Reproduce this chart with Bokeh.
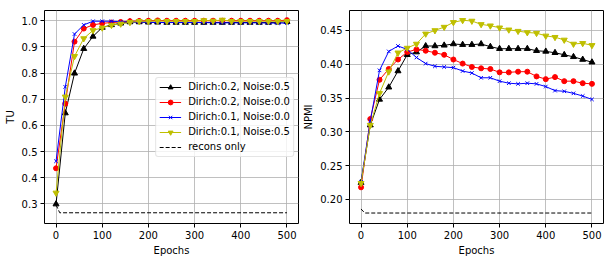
from bokeh.plotting import figure
from bokeh.layouts import row
from bokeh.models import Range1d, FixedTicker, NumeralTickFormatter
from bokeh.embed import file_html
from bokeh.resources import INLINE

epochs = [0, 20, 40, 60, 80, 100, 120, 140, 160, 180, 200, 220, 240, 260, 280,
          300, 320, 340, 360, 380, 400, 420, 440, 460, 480, 500]

tu_d02_n05 = [0.299, 0.647, 0.799, 0.893, 0.940, 0.974, 0.984, 0.990, 0.995, 0.995,
              0.994, 0.994, 0.993, 0.993, 0.993, 0.993, 0.993, 0.993, 0.993, 0.993,
              0.993, 0.993, 0.993, 0.993, 0.994, 0.996]
tu_d02_n00 = [0.436, 0.683, 0.920, 0.970, 0.984, 0.990, 0.993, 0.995, 0.998, 0.999,
              1.000, 1.001, 1.000, 1.000, 1.000, 1.000, 1.000, 1.000, 1.000, 1.000,
              1.000, 1.000, 1.000, 1.000, 1.000, 1.002]
tu_d01_n00 = [0.463, 0.747, 0.949, 0.984, 0.998, 0.998, 0.998, 0.996, 0.995, 0.995,
              0.994, 0.993, 0.993, 0.993, 0.993, 0.993, 0.993, 0.992, 0.992, 0.992,
              0.992, 0.992, 0.992, 0.991, 0.991, 0.991]
tu_d01_n05 = [0.342, 0.709, 0.864, 0.932, 0.963, 0.973, 0.983, 0.988, 0.994, 0.998,
              0.998, 0.999, 0.998, 0.998, 0.998, 0.998, 1.001, 0.999, 1.003, 0.998,
              0.998, 0.998, 0.998, 0.998, 0.998, 0.998]

npmi_d02_n05 = [0.225, 0.310, 0.348, 0.366, 0.390, 0.414, 0.418, 0.427, 0.427, 0.428,
                0.430, 0.429, 0.429, 0.430, 0.426, 0.423, 0.423, 0.423, 0.423, 0.420,
                0.419, 0.417, 0.414, 0.411, 0.407, 0.403]
npmi_d02_n00 = [0.218, 0.319, 0.377, 0.393, 0.407, 0.418, 0.422, 0.420, 0.417, 0.414,
                0.407, 0.401, 0.396, 0.394, 0.393, 0.388, 0.388, 0.389, 0.389, 0.382,
                0.378, 0.381, 0.375, 0.375, 0.372, 0.371]
npmi_d01_n00 = [0.226, 0.316, 0.391, 0.419, 0.427, 0.422, 0.410, 0.401, 0.397, 0.396,
                0.395, 0.390, 0.387, 0.380, 0.380, 0.375, 0.372, 0.371, 0.372, 0.371,
                0.367, 0.361, 0.360, 0.357, 0.353, 0.348]
npmi_d01_n05 = [0.224, 0.310, 0.357, 0.389, 0.417, 0.424, 0.430, 0.445, 0.450, 0.455,
                0.462, 0.465, 0.464, 0.459, 0.457, 0.454, 0.451, 0.449, 0.447, 0.446,
                0.442, 0.440, 0.436, 0.430, 0.431, 0.428]

recons_epochs = [0, 8, 500]
recons_tu = [0.296, 0.266, 0.266]
recons_npmi = [0.186, 0.180, 0.180]

labels = ["Dirich:0.2, Noise:0.5", "Dirich:0.2, Noise:0.0",
          "Dirich:0.1, Noise:0.0", "Dirich:0.1, Noise:0.5", "recons only"]
colors = ["#000000", "#ff0000", "#0000ff", "#bfbf00"]
markers = ["triangle", "circle", "x", "inverted_triangle"]
msizes = [6, 5, 5, 6]

FONT = "DejaVu Sans"
FS = "10px"


def style(p, yticks, yfmt, ylabel):
    p.outline_line_color = "black"
    p.outline_line_width = 1
    p.outline_line_alpha = 1
    p.background_fill_color = "white"
    p.border_fill_color = "white"
    p.xaxis.ticker = FixedTicker(ticks=[0, 100, 200, 300, 400, 500])
    p.yaxis.ticker = FixedTicker(ticks=yticks)
    p.yaxis.formatter = NumeralTickFormatter(format=yfmt)
    for ax in (p.xaxis[0], p.yaxis[0]):
        ax.axis_line_color = None
        ax.major_tick_out = 4
        ax.major_tick_in = 0
        ax.minor_tick_line_color = None
        ax.major_tick_line_color = "black"
        ax.major_label_text_font = FONT
        ax.major_label_text_font_size = FS
        ax.major_label_text_color = "black"
        ax.major_label_text_line_height = 1.0
        ax.major_label_standoff = 3
        ax.axis_label_text_font = FONT
        ax.axis_label_text_font_size = FS
        ax.axis_label_text_font_style = "normal"
        ax.axis_label_text_color = "black"
        ax.axis_label_text_line_height = 1.0
        ax.axis_label_standoff = 3
    p.xaxis.axis_label = "Epochs"
    p.yaxis.axis_label = ylabel
    p.grid.grid_line_color = "#b0b0b0"
    p.grid.grid_line_width = 0.8


def draw(p, series, recons, with_legend):
    for ys, c, m, s, lab in zip(series, colors, markers, msizes, labels[:4]):
        kw = {"legend_label": lab} if with_legend else {}
        p.line(epochs, ys, line_color=c, line_width=1, **kw)
        p.scatter(epochs, ys, marker=m, size=s, fill_color=c, line_color=c,
                  line_width=1, **kw)
    kw = {"legend_label": labels[4]} if with_legend else {}
    p.line(recons_epochs, recons, line_color="black", line_width=1,
           line_dash="4 2", **kw)


H = 258

p1 = figure(width=300, height=H, output_backend="svg", toolbar_location=None,
            x_range=Range1d(-25, 525), y_range=Range1d(0.225, 1.039),
            min_border_left=44, min_border_right=2, min_border_top=10,
            min_border_bottom=30)
style(p1, [0.3, 0.4, 0.5, 0.6, 0.7, 0.8, 0.9, 1.0], "0.0", "TU")
draw(p1, [tu_d02_n05, tu_d02_n00, tu_d01_n00, tu_d01_n05], recons_tu, True)

lg = p1.legend[0]
lg.location = "center_right"
lg.margin = 4
lg.padding = 3
lg.spacing = 3
lg.glyph_width = 22
lg.glyph_height = 12
lg.label_height = 12
lg.label_standoff = 7
lg.label_text_font = FONT
lg.label_text_font_size = FS
lg.label_text_color = "black"
lg.border_line_color = "#cccccc"
lg.border_line_width = 1
lg.background_fill_alpha = 0.8
lg.border_radius = 3

p2 = figure(width=304, height=H, output_backend="svg", toolbar_location=None,
            x_range=Range1d(-25, 525), y_range=Range1d(0.1645, 0.4795),
            min_border_left=49, min_border_right=1, min_border_top=10,
            min_border_bottom=30)
style(p2, [0.20, 0.25, 0.30, 0.35, 0.40, 0.45], "0.00", "NPMI")
draw(p2, [npmi_d02_n05, npmi_d02_n00, npmi_d01_n00, npmi_d01_n05], recons_npmi, False)

layout = row(p1, p2)
open("out.html", "w").write(file_html(layout, INLINE))
